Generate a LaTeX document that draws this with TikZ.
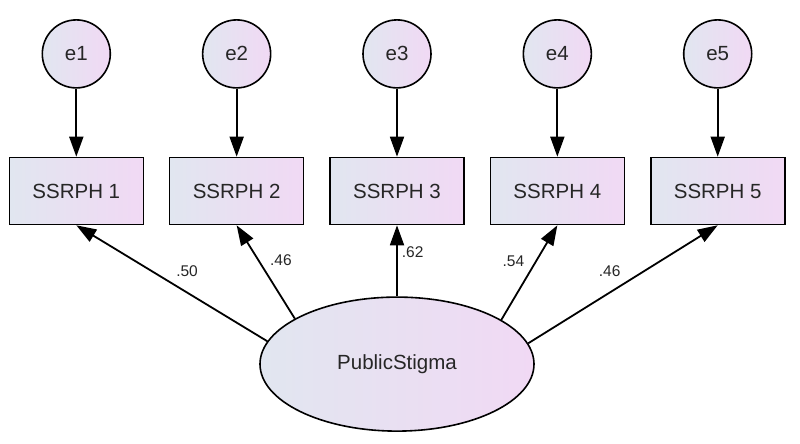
\documentclass[tikz,border=0pt]{standalone}
\usepackage{fontspec}
\setmainfont{Liberation Sans}
\usetikzlibrary{arrows.meta, positioning, shapes.geometric}
\usepackage{xcolor}
\definecolor{shadeleft}{RGB}{225, 230, 240}
\definecolor{shaderight}{RGB}{241, 217, 244}

\begin{document}
\begin{tikzpicture}[
            x=1pt, y=-1pt,
            node distance=24.75pt,
            shaded/.style={draw, line width=1.6pt, left color=shadeleft, right color=shaderight,
                           text=black!85, font=\fontsize{20.5}{24}\selectfont},
            indicator/.style={shaded, rectangle, minimum width=134pt, minimum height=67pt, inner sep=0pt},
            errvar/.style={shaded, circle, minimum size=68pt, inner sep=0pt},
            latent/.style={shaded, ellipse, minimum width=274pt, minimum height=134pt, inner sep=0pt},
            load/.style={-{Triangle[length=20pt, width=14pt]}, line width=1.8pt},
            weight/.style={font=\fontsize{15.5}{18}\selectfont, text=black!85, inner sep=0pt},
        ]
            \useasboundingbox (0,0) rectangle (800,444);

            % observed items
            \node[indicator] (b3) at (397,191) {SSRPH 3};
            \node[indicator, left=of b3] (b2) {SSRPH 2};
            \node[indicator, left=of b2] (b1) {SSRPH 1};
            \node[indicator, right=of b3] (b4) {SSRPH 4};
            \node[indicator, right=of b4] (b5) {SSRPH 5};

            % error terms
            \node[errvar, above=68pt of b1] (e1) {e1};
            \node[errvar, above=68pt of b2] (e2) {e2};
            \node[errvar, above=68pt of b3] (e3) {e3};
            \node[errvar, above=68pt of b4] (e4) {e4};
            \node[errvar, above=68pt of b5] (e5) {e5};

            % latent factor
            \node[latent, below=71pt of b3] (ps) {PublicStigma};

            \draw[load] (e1) -- (b1);
            \draw[load] (e2) -- (b2);
            \draw[load] (e3) -- (b3);
            \draw[load] (e4) -- (b4);
            \draw[load] (e5) -- (b5);

            \draw[load] (ps.170.8) -- node[weight, pos=.42, above=15pt] {.50} (b1.south);
            \draw[load] (ps.156.4) -- node[weight, pos=.63, right=11pt] {.46} (b2.south);
            \draw[load] (ps.north) -- node[weight, pos=.62, right=4pt] {.62} (b3.south);
            \draw[load] (ps.23.6) -- node[weight, pos=.62, left=11pt] {.54} (b4.south);
            \draw[load] (ps.9.6) -- node[weight, pos=.43, above=15pt] {.46} (b5.south);
        \end{tikzpicture}
\end{document}
